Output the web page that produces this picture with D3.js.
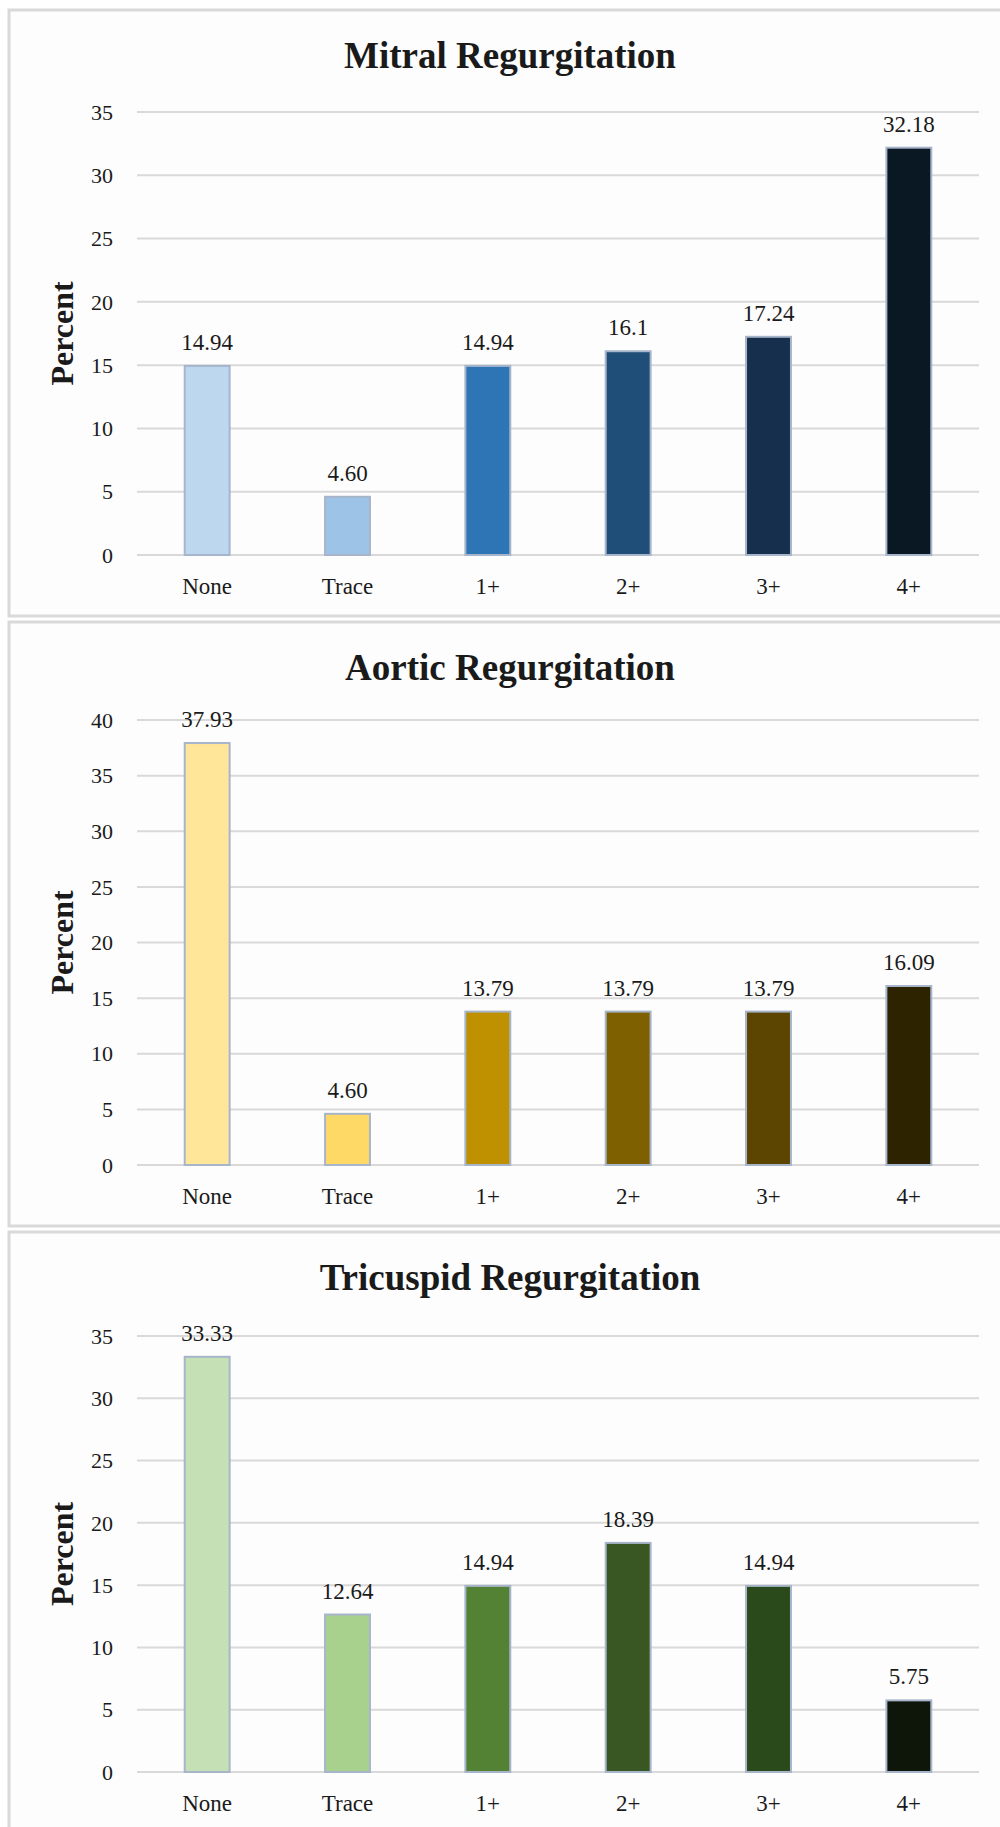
<!DOCTYPE html>
<html>
<head>
<meta charset="utf-8">
<script src="https://cdn.jsdelivr.net/npm/d3@7"></script>
<style>
  html, body { margin: 0; padding: 0; background: #ffffff; }
  svg { display: block; }
  text { font-family: "Liberation Serif", "Times New Roman", serif; fill: #1a1a1a; }
</style>
</head>
<body>
<div id="chart"></div>
<script>
// Categories shared by all three charts
const categories = ["None", "Trace", "1+", "2+", "3+", "4+"]

// Mitral regurgitation
const mitralValues = [14.94, 4.60, 14.94, 16.1, 17.24, 32.18]
const mitralLabels = ["14.94", "4.60", "14.94", "16.1", "17.24", "32.18"]
const mitralColors = ["#bdd7ee", "#9dc3e6", "#2e75b6", "#1f4e79", "#162f4d", "#0a1823"]
const mitralTicks = [0, 5, 10, 15, 20, 25, 30, 35]

// Aortic regurgitation
const aorticValues = [37.93, 4.60, 13.79, 13.79, 13.79, 16.09]
const aorticLabels = ["37.93", "4.60", "13.79", "13.79", "13.79", "16.09"]
const aorticColors = ["#ffe699", "#ffd966", "#bf9000", "#7f6000", "#5c4500", "#2d2300"]
const aorticTicks = [0, 5, 10, 15, 20, 25, 30, 35, 40]

// Tricuspid regurgitation
const tricuspidValues = [33.33, 12.64, 14.94, 18.39, 14.94, 5.75]
const tricuspidLabels = ["33.33", "12.64", "14.94", "18.39", "14.94", "5.75"]
const tricuspidColors = ["#c5e0b4", "#a9d18e", "#548235", "#385723", "#2b4a1b", "#0e1609"]
const tricuspidTicks = [0, 5, 10, 15, 20, 25, 30, 35]

const W = 1000, H = 1827

const svg = d3.select("#chart").append("svg")
  .attr("width", W)
  .attr("height", H)

// panel frames: top/bottom of border box, top/bottom of plot area
const panels = [
  { title: "Mitral Regurgitation", values: mitralValues, labels: mitralLabels, colors: mitralColors, ticks: mitralTicks,
    boxTop: 10, boxBottom: 616, plotTop: 112, plotBottom: 555 },
  { title: "Aortic Regurgitation", values: aorticValues, labels: aorticLabels, colors: aorticColors, ticks: aorticTicks,
    boxTop: 622, boxBottom: 1226, plotTop: 720, plotBottom: 1165 },
  { title: "Tricuspid Regurgitation", values: tricuspidValues, labels: tricuspidLabels, colors: tricuspidColors, ticks: tricuspidTicks,
    boxTop: 1232, boxBottom: 1900, plotTop: 1336, plotBottom: 1772 }
]

const plotLeft = 137, plotRight = 979

panels.forEach(p => drawPanel(p))

function drawPanel(p) {
  const g = svg.append("g")

  // frame
  g.append("rect")
    .attr("x", 9)
    .attr("y", p.boxTop)
    .attr("width", 1000)
    .attr("height", p.boxBottom - p.boxTop)
    .attr("fill", "#fdfdfd")
    .attr("stroke", "#d9d9d9")
    .attr("stroke-width", 3)

  const x = d3.scaleBand()
    .domain(categories)
    .range([plotLeft, plotRight])
    .paddingInner(0.68)
    .paddingOuter(0.34)

  const maxTick = d3.max(p.ticks)
  const y = d3.scaleLinear()
    .domain([0, maxTick])
    .range([p.plotBottom, p.plotTop])

  // grid lines
  g.append("g")
    .selectAll("line")
    .data(p.ticks)
    .join("line")
    .attr("x1", plotLeft)
    .attr("x2", plotRight)
    .attr("y1", d => y(d))
    .attr("y2", d => y(d))
    .attr("stroke", "#d9d9d9")
    .attr("stroke-width", 2)

  // y tick labels
  g.append("g")
    .selectAll("text")
    .data(p.ticks)
    .join("text")
    .attr("x", 113)
    .attr("y", d => y(d))
    .attr("dy", "0.35em")
    .attr("text-anchor", "end")
    .attr("font-size", 22)
    .text(d => d)

  // bars
  g.append("g")
    .selectAll("rect")
    .data(p.values)
    .join("rect")
    .attr("x", (d, i) => x(categories[i]))
    .attr("y", d => y(d))
    .attr("width", x.bandwidth())
    .attr("height", d => y(0) - y(d))
    .attr("fill", (d, i) => p.colors[i])
    .attr("stroke", "#a7b5cb")
    .attr("stroke-width", 2)

  // value labels
  g.append("g")
    .selectAll("text")
    .data(p.values)
    .join("text")
    .attr("x", (d, i) => x(categories[i]) + x.bandwidth() / 2)
    .attr("y", d => y(d) - 16)
    .attr("text-anchor", "middle")
    .attr("font-size", 23)
    .text((d, i) => p.labels[i])

  // category labels
  g.append("g")
    .selectAll("text")
    .data(categories)
    .join("text")
    .attr("x", d => x(d) + x.bandwidth() / 2)
    .attr("y", p.plotBottom + 39)
    .attr("text-anchor", "middle")
    .attr("font-size", 23)
    .text(d => d)

  // title
  g.append("text")
    .attr("x", 510)
    .attr("y", p.boxTop + 58)
    .attr("text-anchor", "middle")
    .attr("font-size", 37)
    .attr("font-weight", "bold")
    .attr("fill", "#000")
    .text(p.title)

  // y axis title
  const cy = (p.plotTop + p.plotBottom) / 2
  g.append("text")
    .attr("transform", `translate(73,${cy}) rotate(-90)`)
    .attr("text-anchor", "middle")
    .attr("font-size", 32)
    .attr("font-weight", "bold")
    .attr("fill", "#000")
    .text("Percent")
}
</script>
</body>
</html>
